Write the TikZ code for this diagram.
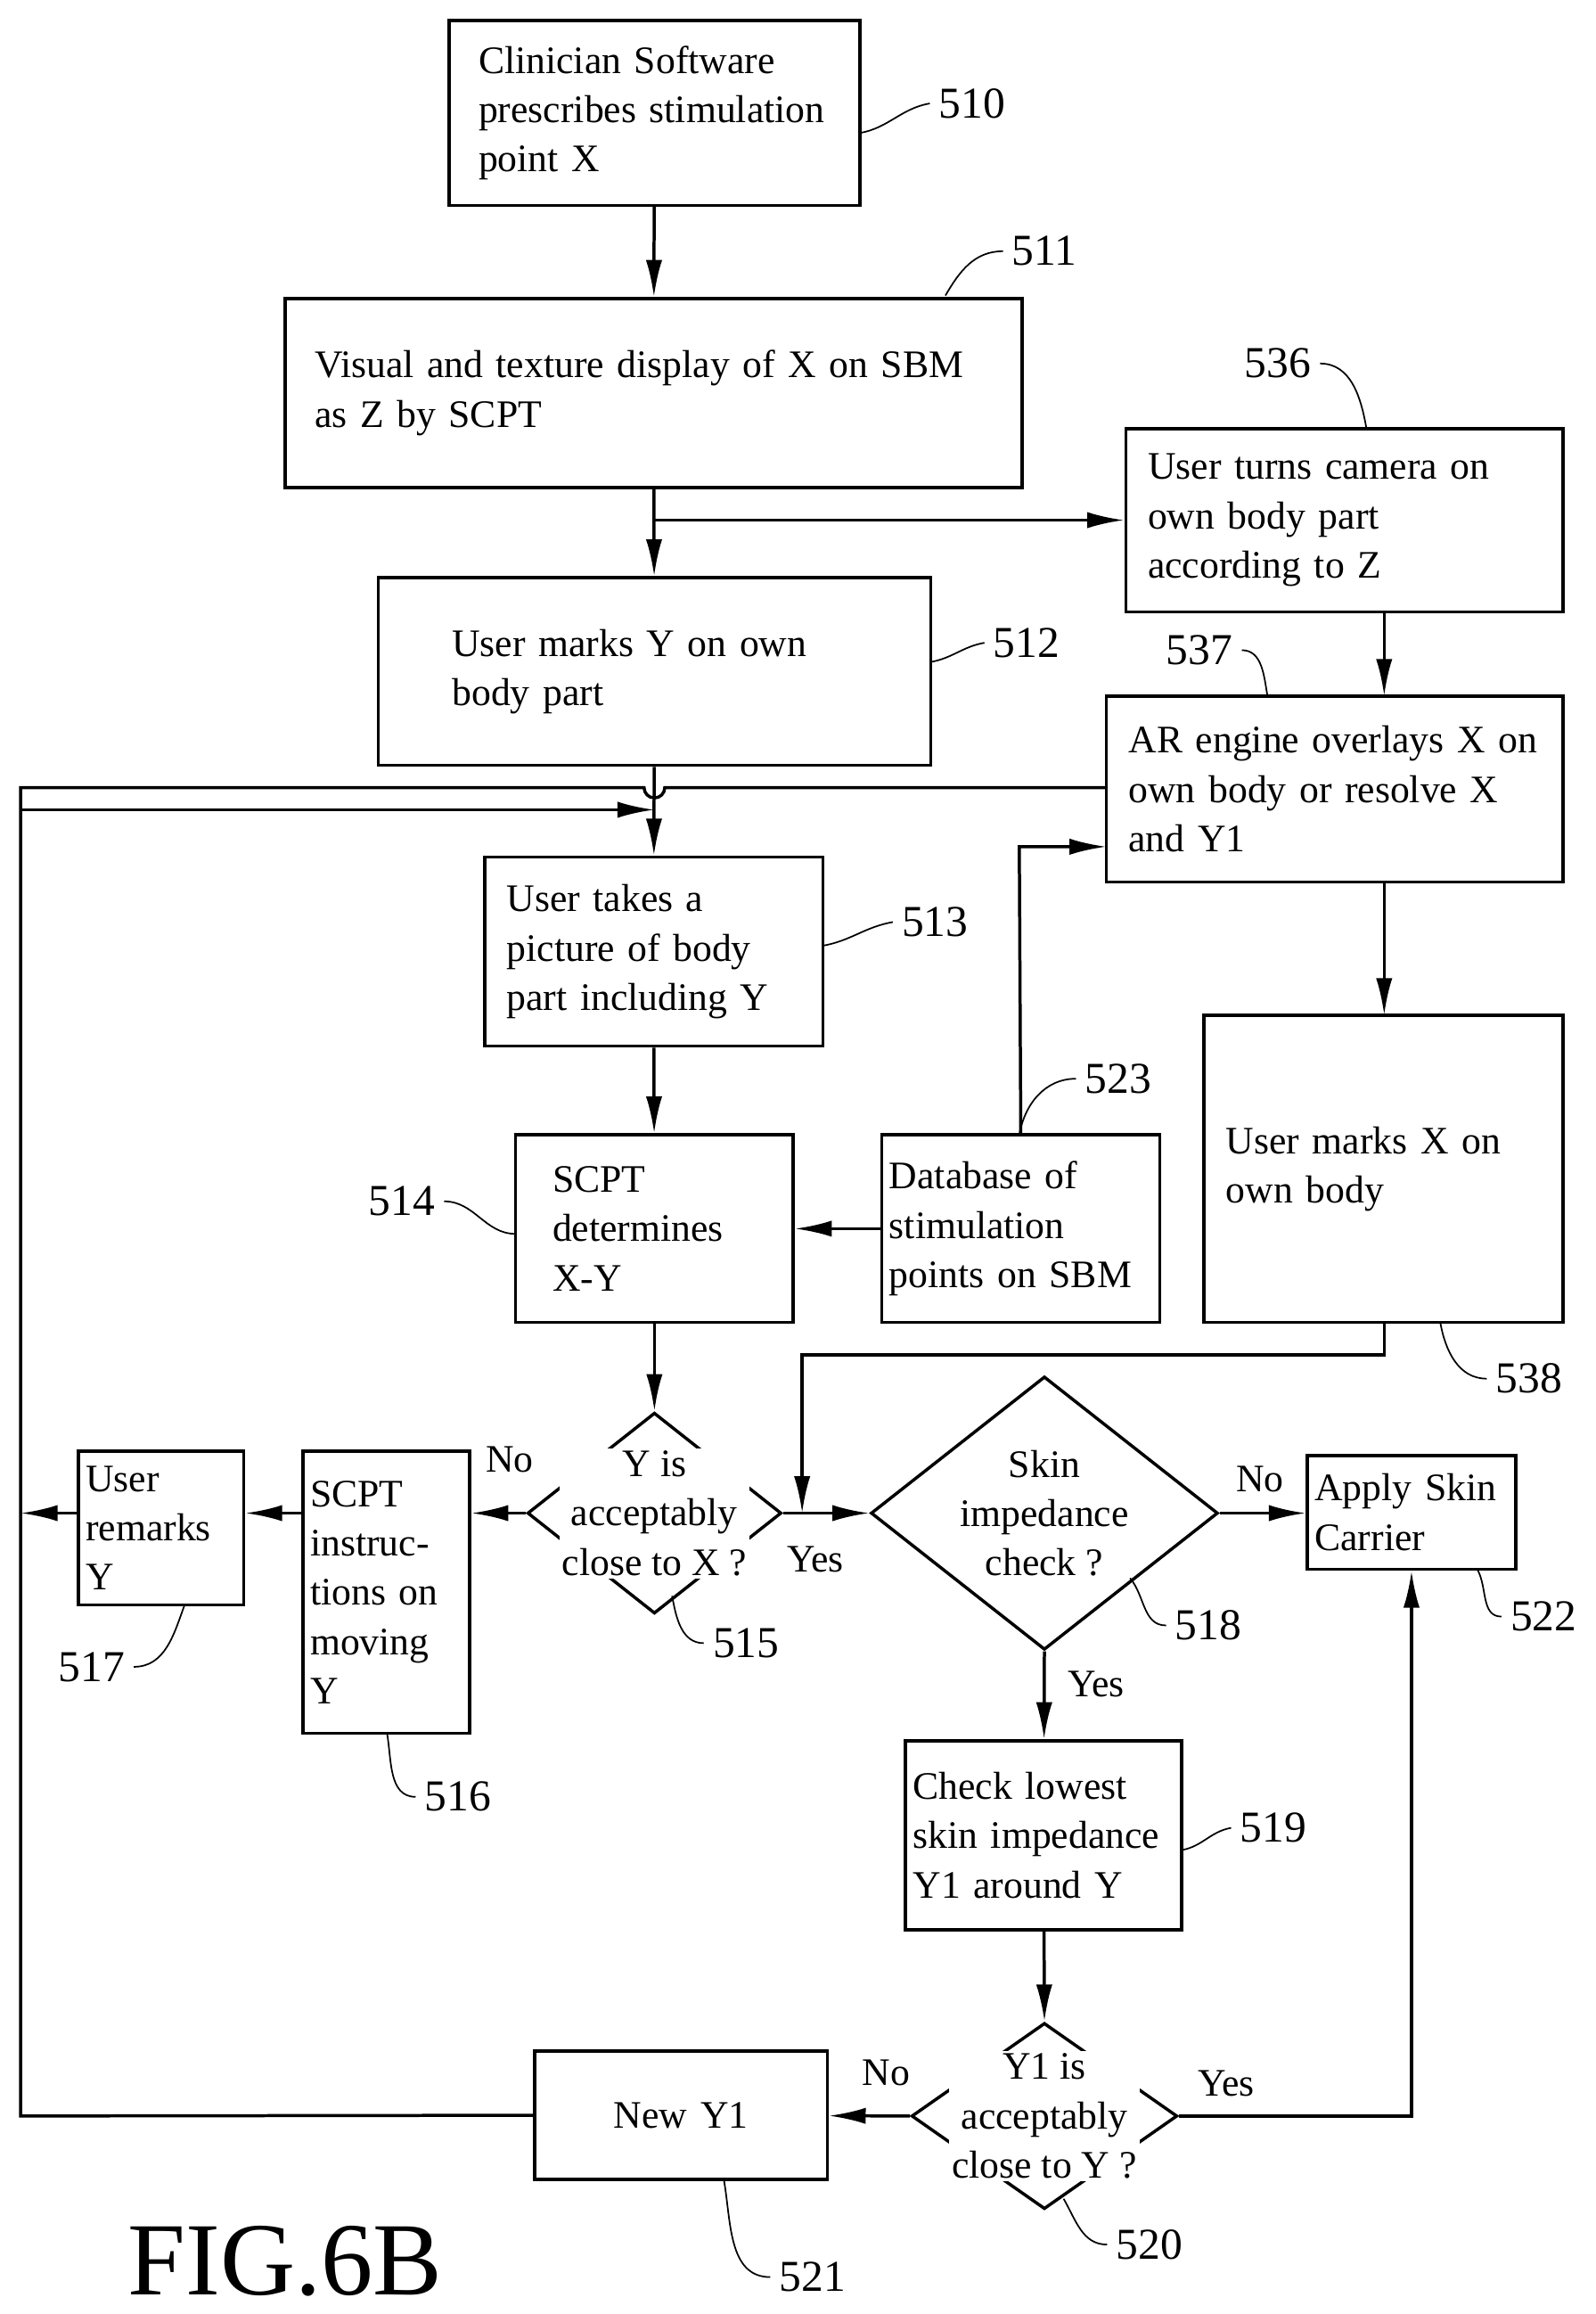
\documentclass[tikz,border=0pt]{standalone}
\usepackage{fontspec}
\setmainfont{Liberation Serif}
\usetikzlibrary{arrows.meta}
\usetikzlibrary{shapes.geometric}

\tikzset{
  box/.style={draw, line width=1.2pt, align=left, inner xsep=0.4cm, inner ysep=0pt},
  test/.style={draw, line width=1.2pt, diamond, inner sep=0pt},
  ask/.style={fill=white, inner sep=1pt, align=center},
  num/.style={font=\fontsize{17}{19}\selectfont},
  lead/.style={line width=0.6pt},
  flow/.style={line width=1.2pt, -{Latex[length=5mm,width=2.2mm]}}
}

\begin{document}
\begin{tikzpicture}[x=0.02cm, y=-0.02cm, font=\fontsize{15}{19}\selectfont]
		\useasboundingbox (0,0) rectangle (1080,1566);
		
		% Boxes
		\node[box, text width=4.76cm, minimum height=2.5cm] (n510) at (443,76.5) {Clinician Software\\prescribes stimulation\\point X};
		\node[box, text width=9.18cm, minimum height=2.56cm] (n511) at (442.5,266) {Visual and texture display of X on SBM\\as Z by SCPT};
		\node[box, text width=5.32cm, minimum height=2.48cm, inner xsep=0.3cm] (n536) at (910,352) {User turns camera on\\own body part\\according to Z};
		\node[box, text width=5.48cm, minimum height=2.54cm, inner xsep=1cm] (n512) at (443,454.5) {User marks Y on own\\body part};
		\node[box, text width=5.58cm, minimum height=2.52cm, inner xsep=0.3cm] (n537) at (903.5,534) {AR engine overlays X on\\own body or resolve X\\and Y1};
		\node[box, text width=3.98cm, minimum height=2.56cm, inner xsep=0.3cm] (n513) at (442.5,644) {User takes a\\picture of body\\part including Y};
		\node[box, text width=2.76cm, minimum height=2.54cm, inner xsep=0.5cm] (n514) at (443,831.5) {SCPT\\determines\\X-Y};
		\node[box, text width=3.56cm, minimum height=2.54cm, inner xsep=0.1cm] (n523) at (691,831.5) {Database of\\stimulation\\points on SBM};
		\node[box, text width=4.26cm, minimum height=4.16cm, inner xsep=0.3cm] (n538) at (936.5,791) {User marks X on\\own body\\[1.5cm]};
		\node[box, text width=2.06cm, minimum height=3.82cm, inner xsep=0.1cm] (n516) at (261.5,1077.5) {SCPT\\instruc-\\tions on\\moving\\Y};
		\node[box, text width=2.04cm, minimum height=2.08cm, inner xsep=0.1cm] (n517) at (109,1034) {User\\remarks\\Y};
		\node[box, text width=2.62cm, minimum height=1.54cm, inner xsep=0.1cm] (n522) at (955.5,1023.5) {Apply Skin\\Carrier};
		\node[box, text width=3.54cm, minimum height=2.56cm, inner xsep=0.1cm] (n519) at (706.5,1242) {Check lowest\\skin impedance\\Y1 around Y};
		\node[box, align=center, text width=3.16cm, minimum height=1.74cm, inner xsep=0.4cm] (n521) at (461,1431.5) {New Y1};
		
		% Decisions
		\node[test, minimum width=3.44cm, minimum height=2.72cm] (n515) at (443,1024) {};
		\node[ask] at (n515) {Y is\\acceptably\\close to X ?};
		\node[test, minimum width=4.7cm, minimum height=3.7cm] (n518) at (707,1024) {};
		\node[ask, fill=none] at (n518) {Skin\\impedance\\check ?};
		\node[test, minimum width=3.6cm, minimum height=2.52cm] (n520) at (707,1432) {};
		\node[ask] at (n520) {Y1 is\\acceptably\\close to Y ?};
		
		% Connectors
		\draw[flow] (n510) -- (n511);
		\draw[flow] (n511) -- (n512);
		\coordinate (fork) at (443,352);
		\draw[flow] (fork) -- (n536.west |- fork);
		\draw[flow] (937,414) -- (937,471);
		\draw[flow] (937,597) -- (937,687);
		\draw[flow] (n512) -- (n513);
		\draw[flow] (n513) -- (n514);
		\draw[flow] (n523) -- (n514);
		\draw[flow] (n523.north) -- (690,573) -- (749,573);
		\draw[flow] (n514) -- (n515);
		\coordinate (join) at (543,1024);
		\draw[flow] (937,895) -- (937,917) -- (543,917) -- (join);
		\draw[flow] (n515.east) -- (n518.west);
		\draw[flow] (n515.west) -- (n515.west -| n516.east);
		\draw[flow] (n516.west |- n515.west) -- (n517.east |- n515.west);
		\draw[flow] (n517.west |- n515.west) -- (14,1024);
		\draw[flow] (n518.east) -- (n518.east -| n522.west);
		\draw[flow] (n518.south) -- (n519);
		\draw[flow] (n519) -- (n520.north);
		\draw[flow] (n520.east) -- (955.5,1432) -- (n522.south);
		\draw[flow] (n520.west) -- (n521);
		\draw[line width=1.2pt] (n521.west) -- (14,1432) -- (14,533) -- (436,533) arc[start angle=180, end angle=0, radius=7] -- (749,533);
		\draw[flow] (14,548) -- (443,548);
		
		% Answers
		\node at (345,988) {No};
		\node at (552,1055) {Yes};
		\node at (853,1001) {No};
		\node at (742,1140) {Yes};
		\node at (600,1403) {No};
		\node at (830,1410) {Yes};
		
		% Reference numbers
		\node[num] (l510) at (658,70) {510};
		\draw[lead] (582,90) to[out=10, in=190] (l510.west);
		\node[num] (l511) at (707,170) {511};
		\draw[lead] (640,200) to[out=60, in=180] (l511.west);
		\node[num] (l536) at (865,246) {536};
		\draw[lead] (925,290) to[out=100, in=0] (l536.east);
		\node[num] (l512) at (695,435) {512};
		\draw[lead] (630,448) to[out=10, in=190] (l512.west);
		\node[num] (l537) at (812,440) {537};
		\draw[lead] (858,471) to[out=100, in=0] (l537.east);
		\node[num] (l513) at (633,624) {513};
		\draw[lead] (557,640) to[out=10, in=190] (l513.west);
		\node[num] (l523) at (757,730) {523};
		\draw[lead] (690,768) to[out=80, in=180] (l523.west);
		\node[num] (l538) at (1035,933) {538};
		\draw[lead] (975,895) to[out=-80, in=180] (l538.west);
		\node[num] (l514) at (272,813) {514};
		\draw[lead] (l514.east) to[out=0, in=180] (349,835);
		\node[num] (l515) at (505,1112) {515};
		\draw[lead] (455,1080) to[out=-80, in=180] (l515.west);
		\node[num] (l518) at (818,1100) {518};
		\draw[lead] (765,1068) to[out=-50, in=180] (l518.west);
		\node[num] (l516) at (310,1216) {516};
		\draw[lead] (262,1173) to[out=-80, in=180] (l516.west);
		\node[num] (l517) at (62,1128) {517};
		\draw[lead] (l517.east) to[out=0, in=-110] (125,1086);
		\node[num] (l522) at (1045,1094) {522};
		\draw[lead] (1000,1062) to[out=-60, in=180] (l522.west);
		\node[num] (l519) at (862,1237) {519};
		\draw[lead] (800,1252) to[out=10, in=190] (l519.west);
		\node[num] (l520) at (778,1519) {520};
		\draw[lead] (720,1488) to[out=-60, in=180] (l520.west);
		\node[num] (l521) at (550,1541) {521};
		\draw[lead] (490,1475) to[out=-80, in=180] (l521.west);
		
		\node[font=\fontsize{40}{44}\selectfont] at (193,1530) {FIG.6B};
	\end{tikzpicture}
\end{document}
